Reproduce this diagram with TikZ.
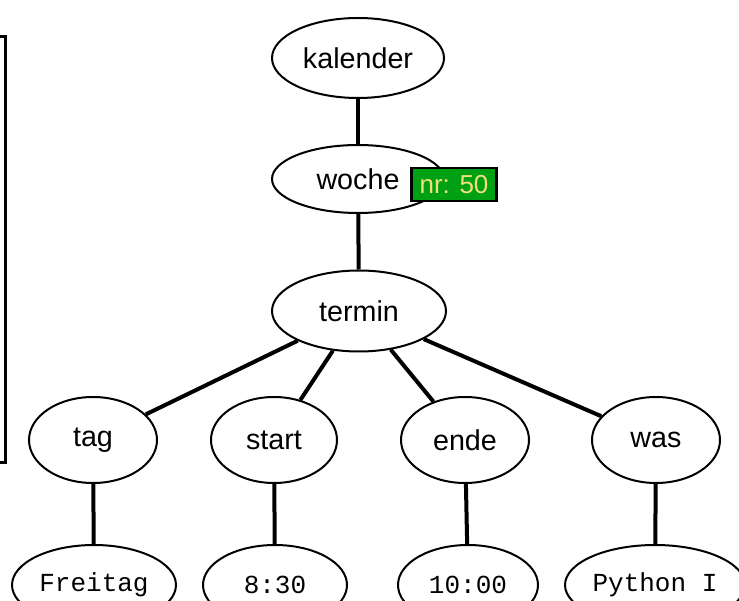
\documentclass[tikz,border=0pt]{standalone}
\usepackage{fontspec}
\setmainfont{Liberation Sans}
\setmonofont{Liberation Mono}
\usetikzlibrary{shapes.geometric}
\definecolor{nrgreen}{RGB}{0,160,20}
\definecolor{nryellow}{RGB}{240,226,120}

\begin{document}
\begin{tikzpicture}[x=1pt, y=-1pt, line width=4pt,
      every node/.style = {shape=ellipse, draw, line width=2pt, inner sep=0pt,
        minimum width=172pt, minimum height=80pt,
        font=\fontsize{28.7}{31}\selectfont},
      child/.style = {minimum width=128pt, minimum height=86pt},
      value/.style = {minimum height=80pt, font=\fontsize{26}{28}\selectfont\ttfamily}]
    \useasboundingbox (0,0) rectangle (739,601);
    \draw[line width=3pt] (-20,37) rectangle (5,462);
    \node (kalender) at (358,58) {kalender};
    \node[minimum height=68pt] (woche) at (358,179) {woche};
    \node[minimum width=174pt, minimum height=81pt] (termin) at (359,311) {termin};
    \node[child] (tag) at (93,440) {tag};
    \node[child, minimum width=126pt] (start) at (274,440) {start};
    \node[child] (ende) at (465,440) {ende};
    \node[child] (was) at (656,440) {was};
    \node[value, minimum width=164pt] (freitag) at (94,585) {Freitag};
    \node[value, minimum width=144pt] (startwert) at (275,585) {8:30};
    \node[value, minimum width=140pt] (endewert) at (468,585) {10:00};
    \node[value, minimum width=180pt] (waswert) at (655,585) {Python I};
    \node[shape=rectangle, fill=nrgreen, text=nryellow, line width=2.5pt,
      minimum width=85pt, minimum height=33pt,
      font=\fontsize{26}{28}\selectfont] (nr) at (454,184.5) {nr: 50};
    \draw (kalender) -- (woche);
    \draw (woche) -- (termin);
    \draw (termin) -- (tag);
    \draw (termin) -- (start);
    \draw (termin) -- (ende);
    \draw (termin) -- (was);
    \draw (tag) -- (freitag);
    \draw (start) -- (startwert);
    \draw (ende) -- (endewert);
    \draw (was) -- (waswert);
\end{tikzpicture}
\end{document}
